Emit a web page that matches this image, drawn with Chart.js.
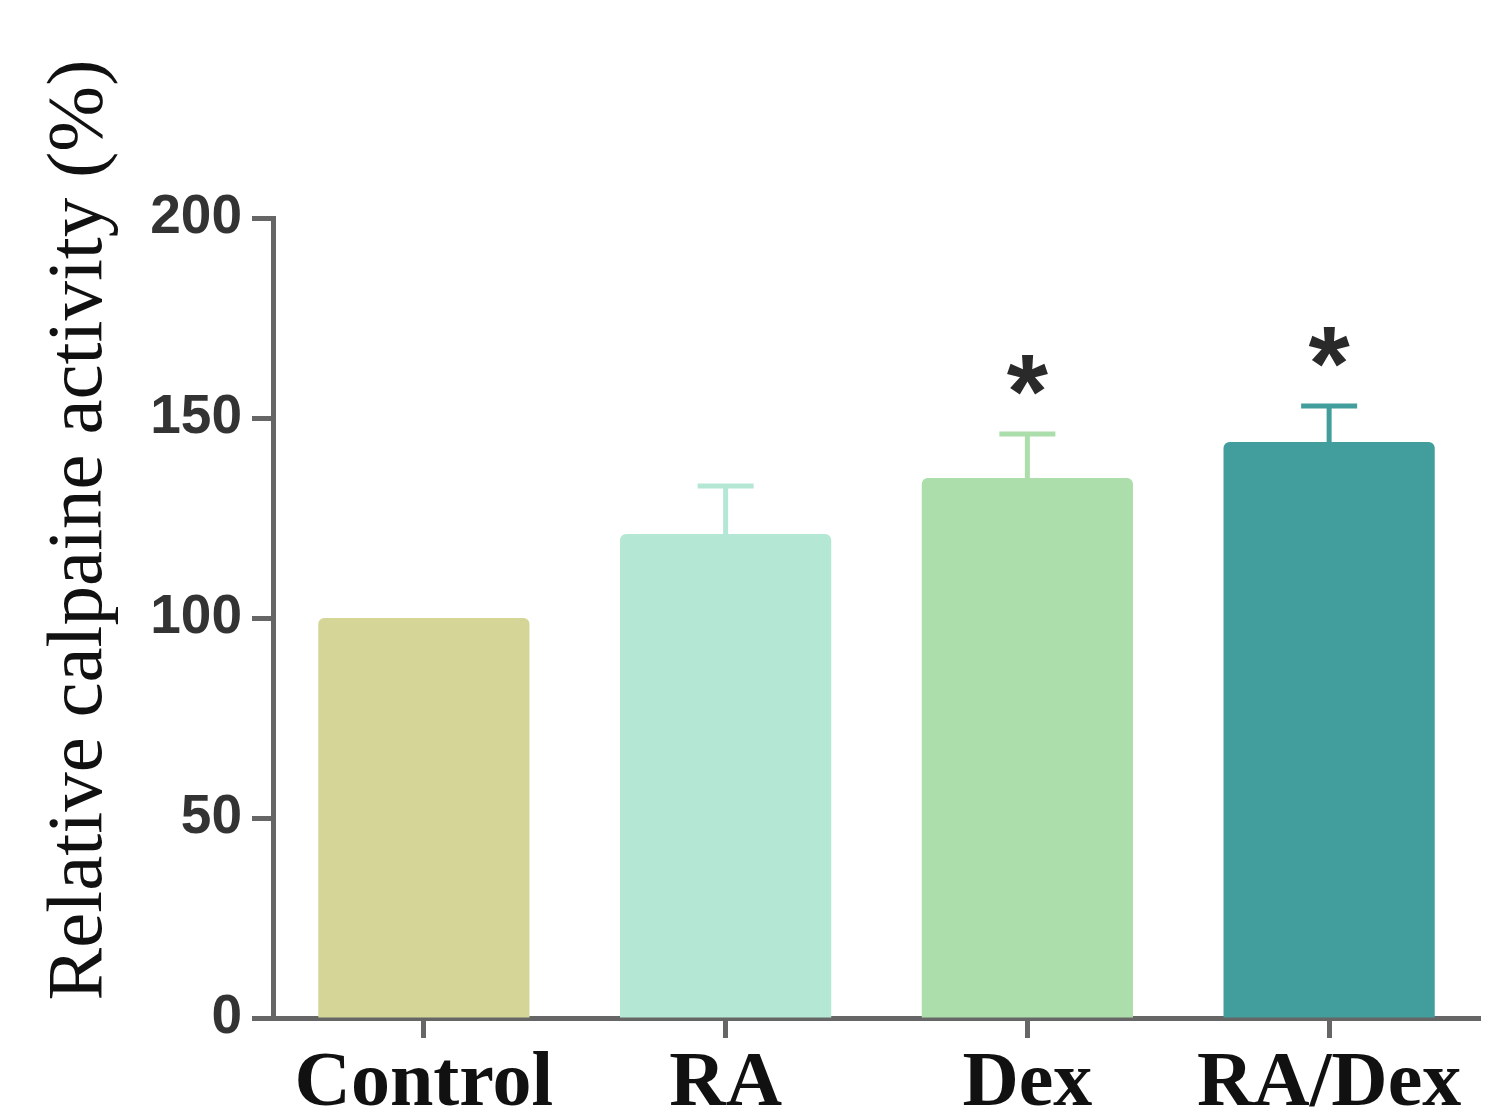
<!DOCTYPE html>
<html>
<head>
<meta charset="utf-8">
<script src="https://cdn.jsdelivr.net/npm/chart.js@4/dist/chart.umd.min.js"></script>
<style>
  html, body { margin: 0; padding: 0; background: #ffffff; }
  #wrap { position: relative; width: 1497px; height: 1116px; }
</style>
</head>
<body>
<div id="wrap"><canvas id="chart"></canvas></div>
<script>
// Treatment groups and mean relative calpain activity (%)
const groups = ['Control', 'RA', 'Dex', 'RA/Dex'];
const activity = [100, 121, 135, 144];
// Upper error (SD) for each group
const errorUp = [0, 12, 11, 9];
// Significance markers versus control
const marks = ['', '', '*', '*'];
// Y axis tick values
const yTicks = [0, 50, 100, 150, 200];

const barColors = ['#d4d596', '#b4e8d4', '#acdeab', '#419e9c'];
const axisColor = '#666666';

// Error bars and significance stars
const errorBarPlugin = {
  id: 'errorBars',
  afterDatasetsDraw(chart) {
    const { ctx, scales: { x, y } } = chart;
    const meta = chart.getDatasetMeta(0);
    ctx.save();
    meta.data.forEach((bar, i) => {
      const cx = bar.x;
      const top = y.getPixelForValue(activity[i]);
      let markY = top;
      if (errorUp[i] > 0) {
        const hi = y.getPixelForValue(activity[i] + errorUp[i]);
        ctx.strokeStyle = barColors[i];
        ctx.lineWidth = 5;
        ctx.lineCap = 'butt';
        ctx.beginPath();
        ctx.moveTo(cx, top);
        ctx.lineTo(cx, hi);
        ctx.moveTo(cx - 28, hi);
        ctx.lineTo(cx + 28, hi);
        ctx.stroke();
        markY = hi;
      }
      if (marks[i]) {
        ctx.fillStyle = '#2a2a2a';
        ctx.font = 'bold 106px "Liberation Sans", Arial, sans-serif';
        ctx.textAlign = 'center';
        ctx.textBaseline = 'alphabetic';
        ctx.fillText(marks[i], cx, markY - 6);
      }
    });
    ctx.restore();
  }
};

// Rotated y axis title
const yTitlePlugin = {
  id: 'yTitle',
  afterDraw(chart) {
    const { ctx } = chart;
    ctx.save();
    ctx.translate(80, 530);
    ctx.rotate(-Math.PI / 2);
    ctx.fillStyle = '#111111';
    ctx.font = '79px "Liberation Serif", "Times New Roman", serif';
    ctx.textAlign = 'center';
    ctx.textBaseline = 'middle';
    ctx.fillText('Relative calpaine activity (%)', 0, 0);
    ctx.restore();
  }
};

new Chart(document.getElementById('chart'), {
  type: 'bar',
  data: {
    labels: groups,
    datasets: [{
      data: activity,
      backgroundColor: barColors,
      borderWidth: 0,
      borderRadius: 6,
      borderSkipped: 'start',
      barPercentage: 0.70,
      categoryPercentage: 1.0
    }]
  },
  options: {
    responsive: true,
    maintainAspectRatio: false,
    animation: false,
    layout: { padding: { top: 218, right: 17, left: 0, bottom: 0 } },
    plugins: {
      legend: { display: false },
      tooltip: { enabled: false },
      title: { display: false }
    },
    scales: {
      x: {
        z: 1,
        offset: true,
        grid: {
          display: true,
          offset: false,
          drawOnChartArea: false,
          drawTicks: true,
          tickLength: 20,
          tickWidth: 5,
          tickColor: axisColor
        },
        border: { display: true, color: axisColor, width: 5 },
        ticks: {
          color: '#111111',
          padding: 0,
          font: { family: '"Liberation Serif", "Times New Roman", serif', size: 78, weight: 'bold' },
          maxRotation: 0,
          autoSkip: false
        },
        afterFit(scale) { scale.height = 98; }
      },
      y: {
        z: 1,
        min: 0,
        max: 200,
        afterBuildTicks(scale) { scale.ticks = yTicks.map(v => ({ value: v })); },
        grid: {
          display: true,
          drawOnChartArea: false,
          drawTicks: true,
          tickLength: 21,
          tickWidth: 5,
          tickColor: axisColor
        },
        border: { display: true, color: axisColor, width: 5 },
        ticks: {
          color: '#333333',
          padding: 10,
          font: { family: '"Liberation Sans", Arial, sans-serif', size: 55, weight: 'bold' }
        },
        afterFit(scale) { scale.width = 273; }
      }
    }
  },
  plugins: [errorBarPlugin, yTitlePlugin]
});
</script>
</body>
</html>
